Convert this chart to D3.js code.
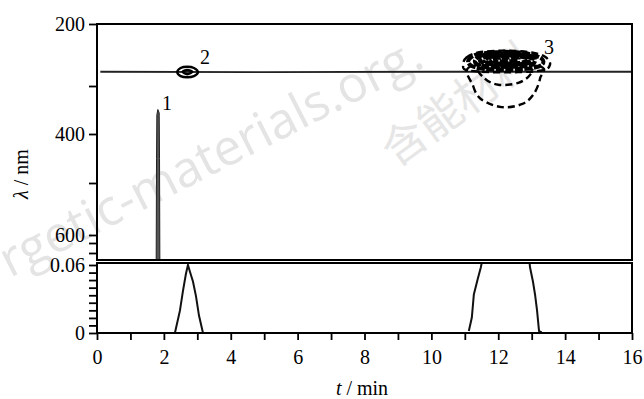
<!DOCTYPE html>
<html>
<head>
<meta charset="utf-8">
<script src="https://cdn.jsdelivr.net/npm/d3@7"></script>
<style>
  body { margin: 0; background: #fff; }
  text { font-family: "Liberation Serif", "Times New Roman", Times, "Noto Serif", "DejaVu Serif", serif; }
</style>
</head>
<body>
<div id="chart"></div>
<script>
// tick values / labels
const tTicks = [0, 2, 4, 6, 8, 10, 12, 14, 16];
const tMinor = [1, 3, 5, 7, 9, 11, 13, 15];
const lambdaTicks = [200, 400, 600];
const lambdaMinor = [300, 500, 616, 636];
const absTicks = [0, 0.06];
const absMinor = [0.0067, 0.0133, 0.02, 0.0267, 0.0333, 0.04, 0.0467, 0.0533];

// top panel: detection line and contour traces (t in min, lambda in nm)
const detectLine = [[0.1, 277], [5, 277.5], [10, 277], [16, 277]];
const peak1Band = [[1.77, 650], [1.78, 450], [1.79, 360], [1.82, 349], [1.86, 356], [1.87, 450], [1.88, 650]];
const peak2Contours = [
  [[2.4, 278], [2.5, 271], [2.7, 269], [2.9, 271], [3.02, 278], [2.9, 284], [2.7, 286], [2.5, 284]],
  [[2.56, 277], [2.7, 274], [2.85, 277], [2.7, 281]]
];
const peak3Core = [
  [[11.1, 262], [11.3, 250], [11.8, 246], [12.3, 245], [12.9, 248], [13.3, 256], [13.3, 266], [12.9, 272], [12.2, 274], [11.4, 271]],
  [[11.3, 260], [11.5, 251], [12.0, 248], [12.5, 248], [13.0, 252], [13.1, 260], [12.9, 267], [12.2, 269], [11.5, 267]],
  [[11.45, 259], [11.7, 252], [12.2, 250], [12.7, 251], [13.0, 256], [12.9, 263], [12.3, 266], [11.7, 264]],
  [[11.6, 258], [11.8, 253], [12.3, 252], [12.8, 254], [12.9, 259], [12.6, 263], [12.1, 264], [11.7, 262]],
  [[11.8, 257], [12.1, 254], [12.5, 255], [12.6, 258], [12.3, 260], [11.9, 260]]
];
const peak3Outer = [
  [[10.95, 266], [11.05, 254], [11.4, 246], [12.2, 243], [13.0, 246], [13.4, 253], [13.55, 265], [13.3, 275], [12.2, 278], [11.1, 275]],
  [[11.2, 268], [11.25, 300], [11.5, 328], [12.1, 344], [12.7, 338], [13.05, 318], [13.25, 288], [13.2, 268]],
  [[11.5, 272], [11.6, 288], [12.0, 298], [12.6, 295], [12.95, 282], [12.9, 272]]
];
const peakNames = ["1", "2", "3"];
const peakLabelT = [2.09, 3.23, 13.52];
const peakLabelNm = [335, 253, 237];

// bottom panel: absorbance traces
const absPeak2 = [[2.33, 0], [2.48, 0.0197], [2.57, 0.0369], [2.66, 0.0523], [2.72, 0.06], [2.78, 0.054], [2.87, 0.0454], [2.96, 0.0326], [3.05, 0.0154], [3.17, 0]];
const absPeak3Rise = [[11.12, 0.0017], [11.21, 0.0137], [11.27, 0.034], [11.39, 0.048], [11.48, 0.058], [11.52, 0.064]];
const absPeak3Fall = [[12.93, 0.064], [12.95, 0.058], [13.04, 0.045], [13.1, 0.034], [13.16, 0.02], [13.22, 0.0017], [13.3, 0.0005]];

const W = 644, H = 399;
const left = 97, right = 632;
const topY0 = 24, topY1 = 260, botY0 = 263, botY1 = 333;
const serif = "'Liberation Serif', 'Times New Roman', Times, 'Noto Serif', 'DejaVu Serif', serif";

const svg = d3.select("#chart").append("svg")
  .attr("width", W).attr("height", H);

// faint watermark behind the plot
svg.append("text")
  .attr("transform", "translate(10,278) rotate(-27)")
  .style("font-family", "'Open Sans', sans-serif")
  .style("font-size", "50px")
  .attr("fill", "#e4e4e4")
  .text("rgetic-materials.org.");
svg.append("text")
  .attr("transform", "translate(396,168) rotate(-36)")
  .style("font-family", "'Noto Sans CJK SC', sans-serif")
  .style("font-size", "44px")
  .attr("fill", "#e6e6e6")
  .text("含能材料");

const x = d3.scaleLinear().domain([0, 16]).range([left, right]);
// the printed wavelength axis is not evenly spaced, follow its ticks
const yTop = d3.scaleLinear().domain([200, 300, 400, 500, 600, 650]).range([topY0, 86, 134, 183, 235, topY1]);
const yBot = d3.scaleLinear().domain([0, 0.06]).range([botY1, botY0 + 2]);

svg.append("clipPath").attr("id", "clipTop").append("rect")
  .attr("x", left).attr("y", topY0).attr("width", right - left).attr("height", topY1 - topY0);
svg.append("clipPath").attr("id", "clipBot").append("rect")
  .attr("x", left).attr("y", botY0).attr("width", right - left).attr("height", botY1 - botY0);

const line = d3.line().x(d => x(d[0])).y(d => yTop(d[1]));
const closed = d3.line().x(d => x(d[0])).y(d => yTop(d[1])).curve(d3.curveCardinalClosed);
const absLine = d3.line().x(d => x(d[0])).y(d => yBot(d[1]));

// top panel marks
const gTop = svg.append("g").attr("clip-path", "url(#clipTop)");
gTop.append("path").attr("d", line(detectLine))
  .attr("fill", "none").attr("stroke", "#222").attr("stroke-width", 1.8);
gTop.append("path").attr("d", line(peak1Band))
  .attr("fill", "#555").attr("stroke", "#222").attr("stroke-width", 1);
gTop.selectAll(".c2").data(peak2Contours).enter().append("path")
  .attr("d", d => closed(d))
  .attr("fill", "none").attr("stroke", "#000").attr("stroke-width", 2.4);
gTop.selectAll(".c3o").data(peak3Outer).enter().append("path")
  .attr("d", d => closed(d))
  .attr("fill", "none").attr("stroke", "#000")
  .attr("stroke-width", 2.4)
  .attr("stroke-dasharray", "7,4");
gTop.selectAll(".c3c").data(peak3Core).enter().append("path")
  .attr("d", d => closed(d))
  .attr("fill", "none").attr("stroke", "#000")
  .attr("stroke-width", 4)
  .attr("stroke-dasharray", "8,1.5");

svg.selectAll(".plabel").data(peakNames).enter().append("text")
  .attr("x", (d, i) => x(peakLabelT[i]))
  .attr("y", (d, i) => yTop(peakLabelNm[i]))
  .attr("dy", "0.35em")
  .attr("text-anchor", "middle")
  .style("font-size", "20px")
  .style("font-family", serif)
  .text(d => d);

// bottom panel marks
const gBot = svg.append("g").attr("clip-path", "url(#clipBot)");
[absPeak2, absPeak3Rise, absPeak3Fall].forEach(s => {
  gBot.append("path").attr("d", absLine(s))
    .attr("fill", "none").attr("stroke", "#111").attr("stroke-width", 2);
});

// panel frames
svg.append("rect").attr("x", left).attr("y", topY0).attr("width", right - left).attr("height", topY1 - topY0)
  .attr("fill", "none").attr("stroke", "#000").attr("stroke-width", 2);
svg.append("rect").attr("x", left).attr("y", botY0).attr("width", right - left).attr("height", botY1 - botY0)
  .attr("fill", "none").attr("stroke", "#000").attr("stroke-width", 2);

function styleAxis(g) {
  g.attr("font-family", null).attr("font-size", null);
  g.select(".domain").remove();
  g.selectAll("line").attr("stroke", "#000").attr("stroke-width", 1.8);
  g.selectAll("text").attr("fill", "#000")
    .style("font-size", "20px")
    .style("font-family", serif);
}

// axes
svg.append("g").attr("transform", `translate(${left},0)`)
  .call(d3.axisLeft(yTop).tickValues(lambdaTicks).tickSize(8).tickPadding(4).tickFormat(d3.format("d")))
  .call(styleAxis);
svg.append("g").attr("transform", `translate(${left},0)`)
  .call(d3.axisLeft(yTop).tickValues(lambdaMinor).tickSize(8).tickFormat(""))
  .call(styleAxis);
svg.append("g").attr("transform", `translate(${left},0)`)
  .call(d3.axisLeft(yBot).tickValues(absTicks).tickSize(8).tickPadding(4).tickFormat(d => d === 0 ? "0" : d3.format(".2f")(d)))
  .call(styleAxis);
svg.append("g").attr("transform", `translate(${left},0)`)
  .call(d3.axisLeft(yBot).tickValues(absMinor).tickSize(8).tickFormat(""))
  .call(styleAxis);
svg.append("g").attr("transform", `translate(0,${botY1})`)
  .call(d3.axisBottom(x).tickValues(tTicks).tickSize(7).tickPadding(10).tickFormat(d3.format("d")))
  .call(styleAxis);
svg.append("g").attr("transform", `translate(0,${botY1})`)
  .call(d3.axisBottom(x).tickValues(tMinor).tickSize(7).tickFormat(""))
  .call(styleAxis);

// axis titles
const xt = svg.append("text")
  .attr("x", 362).attr("y", 395)
  .attr("text-anchor", "middle")
  .style("font-size", "20px")
  .style("font-family", serif);
xt.append("tspan").style("font-style", "italic").text("t");
xt.append("tspan").text(" / min");

const yt = svg.append("text")
  .attr("transform", "translate(28,174) rotate(-90)")
  .attr("text-anchor", "middle")
  .style("font-size", "20px")
  .style("font-family", serif);
yt.append("tspan").style("font-style", "italic").text("λ");
yt.append("tspan").text(" / nm");
</script>
</body>
</html>
